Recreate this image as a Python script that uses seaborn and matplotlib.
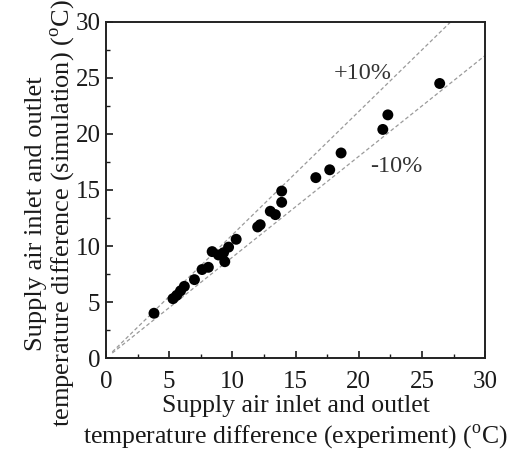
import matplotlib
matplotlib.use("Agg")
import matplotlib.pyplot as plt
import seaborn as sns
import numpy as np
import pandas as pd

# Temperature difference between supply air inlet and outlet (degC)
experiment = [3.8, 5.3, 5.6, 5.9, 6.2, 7.0, 7.6, 8.1, 8.4, 8.9, 9.4, 9.3, 9.7,
              10.3, 12.0, 12.2, 13.0, 13.4, 13.9, 13.9, 16.6, 17.7, 18.6,
              21.9, 22.3, 26.4]
simulation = [4.0, 5.3, 5.6, 6.0, 6.4, 7.0, 7.9, 8.1, 9.5, 9.2, 8.6, 9.4, 9.9,
              10.6, 11.7, 11.9, 13.1, 12.8, 13.9, 14.9, 16.1, 16.8, 18.3,
              20.4, 21.7, 24.5]
ticks = [0, 5, 10, 15, 20, 25, 30]
bands = [("+10%", 1.1), ("-10%", 0.9)]

sns.set_theme(style="ticks")
plt.rcParams["font.family"] = ["Liberation Serif", "DejaVu Serif"]
plt.rcParams["mathtext.fontset"] = "custom"
plt.rcParams["mathtext.rm"] = "Liberation Serif"

fig = plt.figure(figsize=(5.07, 4.55), dpi=100)
ax = fig.add_axes([0.209, 0.213, 0.748, 0.739])

df = pd.DataFrame({"exp": experiment, "sim": simulation})

# +/-10% reference lines
xs = np.array([0.5, 30.0])
for label, k in bands:
    ax.plot(xs, k * xs, ls=(0, (3, 2)), color="#9a9a9a", lw=0.9, zorder=1)

sns.scatterplot(data=df, x="exp", y="sim", ax=ax, color="black", s=62,
                edgecolor="none", zorder=3, legend=False)

ax.text(20.3, 25.4, "+10%", fontsize=17.5, color="#333333", ha="center", va="center")
ax.text(23.0, 17.1, "-10%", fontsize=17.5, color="#333333", ha="center", va="center")

ax.set_xlim(0, 30)
ax.set_ylim(0, 30)
ax.set_xticks(ticks)
ax.set_yticks(ticks)
ax.set_xticks(np.arange(2.5, 30, 5), minor=True)
ax.set_yticks(np.arange(2.5, 30, 5), minor=True)
ax.tick_params(which="major", direction="in", length=5, width=1.2,
               labelsize=18, colors="#1a1a1a")
ax.tick_params(axis="x", which="major", pad=9)
ax.tick_params(axis="y", which="major", pad=4)
ax.tick_params(which="minor", direction="in", length=3, width=1.0, colors="#1a1a1a")
for sp in ax.spines.values():
    sp.set_linewidth(1.4)
    sp.set_color("#222222")

ax.set_xlabel("Supply air inlet and outlet\ntemperature difference (experiment) ($^{\\mathrm{o}}$C)",
              fontsize=18.5, labelpad=2, linespacing=1.22, color="#1a1a1a")
ax.set_ylabel("Supply air inlet and outlet\ntemperature difference (simulation) ($^{\\mathrm{o}}$C)",
              fontsize=19, linespacing=1.05, color="#1a1a1a")
ax.yaxis.set_label_coords(-0.076, 0.43)

fig.savefig("out.png", dpi=100)
